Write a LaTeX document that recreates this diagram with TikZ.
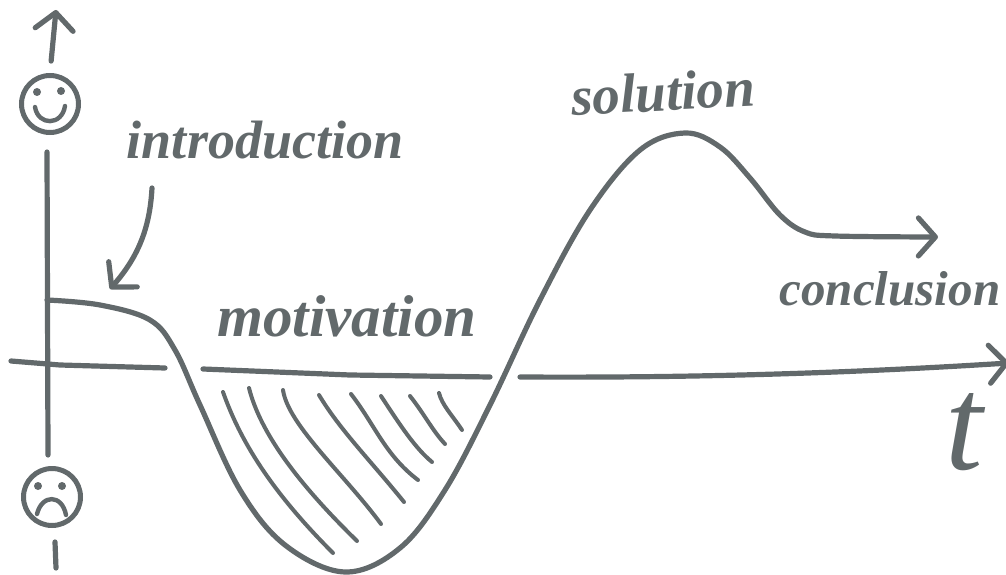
\documentclass[tikz,border=0pt]{standalone}
\usepackage{fontspec}
\usepackage{xcolor}
\usetikzlibrary{arrows.meta,positioning,calc}
\setmainfont{Liberation Serif}
\definecolor{sketchgray}{HTML}{62696B}
\tikzset{
  pen/.style={sketchgray, line width=5.2pt, line cap=round, line join=round},
  barb/.style={-{Straight Barb[length=17pt,width=38pt,round,line width=5.2pt]}},
  hatch/.style={sketchgray, line width=4pt, line cap=round},
  face/.style={circle, draw=sketchgray, line width=5pt, minimum size=57pt, inner sep=0pt},
  eye/.style={circle, fill=sketchgray, minimum size=8pt, inner sep=0pt},
  word/.style={text=sketchgray, inner sep=0pt, font=\fontsize{#1}{#1}\selectfont\bfseries\itshape},
  letter/.style={text=sketchgray, inner sep=0pt, font=\fontsize{#1}{#1}\selectfont\itshape},
}
\begin{document}
\begin{tikzpicture}[x=1pt,y=-1pt]
  \useasboundingbox (0,0) rectangle (1006,575);

  % Faces
  \node[face] (happy) at (50,104) {};
  \node[eye] (happyl) at (37,92) {};
  \node[eye] (happyr) at (61,91) {};
  \draw[pen, line width=4.4pt] (35,107) .. controls (38,126) and (62,126) .. (65,106);
  \node[face] (sad) at (52,497) {};
  \node[eye] (sadl) at (38,486) {};
  \node[eye] (sadr) at (62,486) {};
  \draw[pen, line width=4.4pt] (37,514) .. controls (42,494) and (62,494) .. (66,515);

  % Axes
  \coordinate (uptip) at (56,10);
  \coordinate (axistop) at (47,152);
  \coordinate (axisbot) at (48,455);
  \coordinate (tickend) at (56,568);
  \draw[pen, barb, shorten <=12pt] (happy.north) -- (uptip);
  \draw[pen] (axistop) -- (axisbot);
  \draw[pen] ($(sad.south)+(3,14)$) -- (tickend);
  \draw[pen] (11,361) -- (60,365) -- (165,368);
  \draw[pen] (203,369) -- (350,375) -- (490,377);
  \draw[pen, barb] (520,377) .. controls (700,378) and (850,373) .. (1009,363);

  % Curve
  \draw[pen, barb] plot[smooth, tension=0.6] coordinates {
    (47,300) (100,305) (150,320) (175,350) (200,405) (240,490) (285,545)
    (345,572) (400,548) (445,490) (490,405) (540,300) (590,210) (640,150)
    (685,133) (720,147) (750,178) (780,215) (805,232) (835,236) (938,237)};

  % Hatching
  \draw[hatch] (223,392) .. controls (240,440) and (270,490) .. (333,553);
  \draw[hatch] (249,388) .. controls (262,440) and (310,495) .. (357,541);
  \draw[hatch] (283,390) .. controls (288,425) and (345,475) .. (381,524);
  \draw[hatch] (319,395) .. controls (340,430) and (370,460) .. (404,502);
  \draw[hatch] (351,394) .. controls (375,425) and (385,455) .. (418,480);
  \draw[hatch] (381,396) .. controls (400,425) and (415,448) .. (432,462);
  \draw[hatch] (410,396) .. controls (425,415) and (432,430) .. (445,444);
  \draw[hatch] (439,393) .. controls (442,405) and (452,415) .. (462,430);

  % Labels
  \node[word=54] (intro) at (265,140) {introduction};
  \node[word=59] (motiv) at (347,316) {motivation};
  \node[word=55, rotate=3] (solut) at (663,92) {solution};
  \node[word=49] (concl) at (890,289) {conclusion};
  \node[letter=135] (tlabel) at (964,432) {t};

  % Pointer
  \coordinate (introtip) at (110,289);
  \draw[pen, barb] (152,188) .. controls (150,225) and (140,255) .. (introtip);
\end{tikzpicture}
\end{document}
